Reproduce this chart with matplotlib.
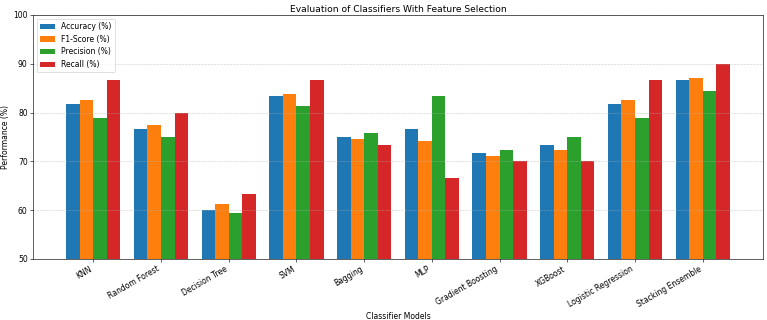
import numpy as np
import matplotlib
matplotlib.use("Agg")
import matplotlib.pyplot as plt

# ==================== Data ====================
models = ["KNN", "Random Forest", "Decision Tree", "SVM", "Bagging", "MLP",
          "Gradient Boosting", "XGBoost", "Logistic Regression", "Stacking Ensemble"]

accuracy = [81.67, 76.67, 60.00, 83.33, 75.00, 76.67, 71.67, 73.33, 81.67, 86.67]
f1_score = [82.6, 77.4, 61.3, 83.9, 74.5, 74.1, 71.2, 72.4, 82.6, 87.1]
precision = [78.8, 75.0, 59.4, 81.3, 75.8, 83.3, 72.4, 75.0, 78.8, 84.4]
recall = [86.67, 80.00, 63.33, 86.67, 73.33, 66.67, 70.00, 70.00, 86.67, 90.00]

series_labels = ["Accuracy (%)", "F1-Score (%)", "Precision (%)", "Recall (%)"]
series_colors = ["#1f77b4", "#ff7f0e", "#2ca02c", "#d62728"]

# ==================== Plot ====================
W, H = 767, 320
DPI = W / 14
fig, ax = plt.subplots(figsize=(14, H / DPI), dpi=DPI)

x = np.arange(len(models))
width = 0.2
all_series = [accuracy, f1_score, precision, recall]
for i, (vals, lab, col) in enumerate(zip(all_series, series_labels, series_colors)):
    ax.bar(x + (i - 1.5) * width, vals, width, label=lab, color=col)

ax.set_xticks(x)
ax.set_xticklabels(models, rotation=30, ha="right")
ax.set_ylim(50, 100)
ax.set_xlabel("Classifier Models")
ax.set_ylabel("Performance (%)")
ax.set_title("Evaluation of Classifiers With Feature Selection", pad=4)
ax.legend(loc="upper left")
ax.grid(axis="y", linestyle="--", alpha=0.6)

fig.subplots_adjust(left=33 / W, right=763 / W, top=1 - 15 / H, bottom=1 - 259 / H)
plt.savefig("out.png", dpi=DPI)
